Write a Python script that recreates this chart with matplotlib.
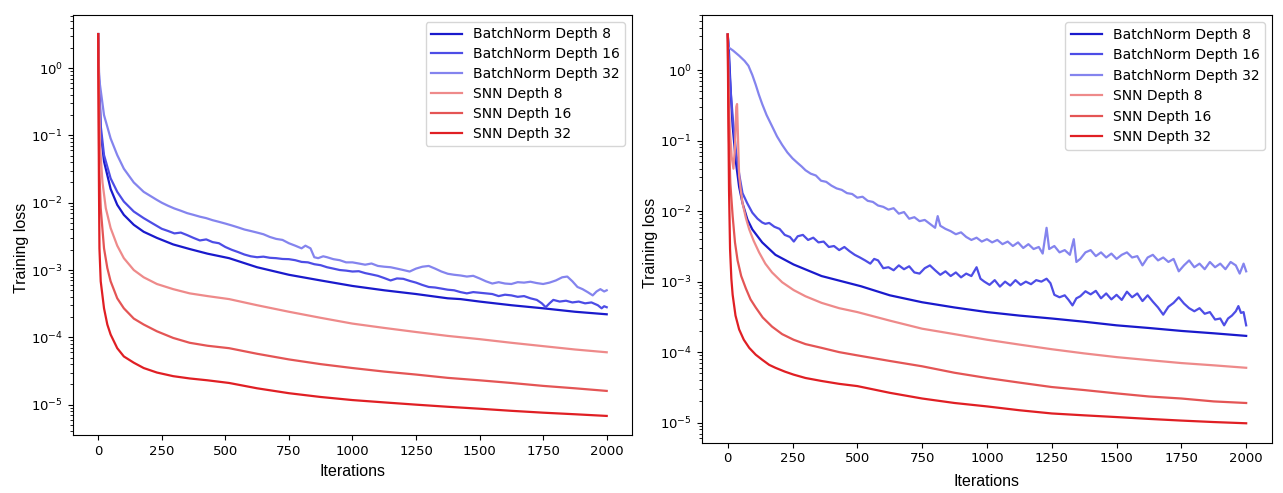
import matplotlib.pyplot as plt

# ---- left panel data (iterations, training loss) ----
l_bn8_x = [0, 3, 10, 23, 49, 75, 101, 140, 179, 231, 295, 360, 430, 515, 625, 750, 875, 1000, 1125, 1250,
           1375, 1425, 1500, 1625, 1750, 1875, 2000]
l_bn8_y = [3.2, 0.8, 0.11, 0.041, 0.016, 9.3e-3, 6.6e-3, 4.7e-3, 3.7e-3, 3.0e-3, 2.4e-3, 2.05e-3, 1.75e-3,
           1.5e-3, 1.1e-3, 8.5e-4, 7.0e-4, 5.8e-4, 5.0e-4, 4.4e-4, 3.8e-4, 3.7e-4, 3.4e-4, 3.0e-4, 2.7e-4,
           2.4e-4, 2.2e-4]

l_bn16_x = [0, 3, 10, 23, 49, 75, 101, 140, 179, 215, 250, 275, 300, 325, 350, 375, 400, 425, 450, 475, 500,
            525, 550, 575, 600, 625, 650, 675, 700, 725, 750, 775, 800, 825, 850, 875, 900, 925, 950, 975, 1000,
            1025, 1050, 1075, 1100, 1125, 1150, 1175, 1200, 1225, 1250, 1275, 1300, 1325, 1350, 1375, 1400, 1425,
            1450, 1475, 1500, 1525, 1550, 1575, 1600, 1625, 1650, 1675, 1700, 1725, 1745, 1760, 1775, 1790, 1815,
            1840, 1865, 1890, 1915, 1940, 1965, 1980, 1990, 2000]
l_bn16_y = [3.2, 0.8, 0.14, 0.051, 0.023, 0.0145, 0.0104, 7.4e-3, 5.9e-3, 4.9e-3, 4.1e-3, 3.8e-3, 3.5e-3,
            3.6e-3, 3.3e-3, 3.0e-3, 2.75e-3, 2.85e-3, 2.6e-3, 2.5e-3, 2.2e-3, 2.0e-3, 1.85e-3, 1.7e-3, 1.6e-3,
            1.55e-3, 1.58e-3, 1.52e-3, 1.5e-3, 1.46e-3, 1.45e-3, 1.4e-3, 1.32e-3, 1.3e-3, 1.22e-3, 1.18e-3,
            1.1e-3, 1.05e-3, 1.0e-3, 9.8e-4, 9.5e-4, 9.6e-4, 9.0e-4, 8.6e-4, 8.2e-4, 7.6e-4, 7.0e-4, 7.5e-4,
            7.4e-4, 6.9e-4, 6.5e-4, 6.0e-4, 5.6e-4, 5.5e-4, 5.3e-4, 5.1e-4, 5.0e-4, 4.7e-4, 4.5e-4, 4.7e-4,
            4.6e-4, 4.5e-4, 4.4e-4, 4.1e-4, 4.3e-4, 4.2e-4, 4.0e-4, 4.1e-4, 3.8e-4, 3.6e-4, 3.2e-4, 2.8e-4,
            3.2e-4, 3.6e-4, 3.4e-4, 3.5e-4, 3.3e-4, 3.4e-4, 3.2e-4, 3.3e-4, 3.0e-4, 2.7e-4, 2.9e-4, 2.8e-4]

l_bn32_x = [0, 4, 23, 49, 75, 101, 140, 179, 231, 250, 275, 300, 325, 350, 375, 400, 425, 450, 475, 500, 525,
            550, 575, 600, 625, 650, 675, 700, 725, 750, 775, 800, 815, 835, 850, 865, 885, 900, 925, 950, 975,
            1000, 1025, 1050, 1075, 1100, 1125, 1150, 1175, 1200, 1225, 1250, 1275, 1300, 1325, 1350, 1375, 1400,
            1425, 1450, 1475, 1500, 1525, 1550, 1575, 1600, 1625, 1650, 1675, 1700, 1725, 1750, 1775, 1800, 1825,
            1845, 1865, 1885, 1905, 1925, 1945, 1960, 1975, 1990, 2000]
l_bn32_y = [3.2, 0.69, 0.2, 0.09, 0.051, 0.032, 0.020, 0.0145, 0.011, 0.0100, 9.0e-3, 8.2e-3, 7.6e-3, 7.0e-3,
            6.6e-3, 6.2e-3, 5.9e-3, 5.5e-3, 5.2e-3, 4.9e-3, 4.6e-3, 4.3e-3, 4.0e-3, 3.8e-3, 3.6e-3, 3.4e-3,
            3.1e-3, 2.9e-3, 2.8e-3, 2.5e-3, 2.3e-3, 2.1e-3, 2.3e-3, 2.1e-3, 1.55e-3, 1.5e-3, 1.6e-3, 1.55e-3,
            1.45e-3, 1.4e-3, 1.3e-3, 1.3e-3, 1.25e-3, 1.2e-3, 1.25e-3, 1.15e-3, 1.12e-3, 1.1e-3, 1.05e-3, 1.0e-3,
            9.5e-4, 1.05e-3, 1.12e-3, 1.15e-3, 1.05e-3, 9.5e-4, 8.8e-4, 8.5e-4, 8.3e-4, 8.0e-4, 8.2e-4, 7.5e-4,
            6.8e-4, 6.3e-4, 6.6e-4, 6.3e-4, 6.2e-4, 6.6e-4, 6.5e-4, 6.7e-4, 6.4e-4, 6.2e-4, 6.5e-4, 7.0e-4,
            7.8e-4, 8.0e-4, 6.8e-4, 5.6e-4, 5.2e-4, 4.7e-4, 4.2e-4, 4.8e-4, 5.2e-4, 4.8e-4, 5.0e-4]

l_snn8_x = [0, 3, 8, 17, 30, 49, 75, 101, 140, 179, 231, 295, 360, 430, 515, 625, 750, 875, 1000, 1125, 1250,
            1375, 1500, 1625, 1750, 1875, 2000]
l_snn8_y = [3.2, 0.5, 0.063, 0.02, 8.3e-3, 4.2e-3, 2.3e-3, 1.5e-3, 1.0e-3, 7.8e-4, 6.2e-4, 5.2e-4, 4.5e-4,
            4.1e-4, 3.7e-4, 3.0e-4, 2.4e-4, 1.95e-4, 1.6e-4, 1.38e-4, 1.2e-4, 1.05e-4, 9.4e-5, 8.3e-5, 7.4e-5,
            6.6e-5, 6.0e-5]

l_snn16_x = [0, 2, 4, 10, 23, 36, 49, 75, 101, 140, 179, 231, 295, 360, 430, 515, 625, 750, 875, 1000, 1125,
             1250, 1375, 1500, 1625, 1750, 1875, 2000]
l_snn16_y = [3.2, 0.4, 0.036, 8.3e-3, 2.1e-3, 1.07e-3, 6.8e-4, 3.8e-4, 2.7e-4, 1.9e-4, 1.55e-4, 1.23e-4,
             9.8e-5, 8.3e-5, 7.5e-5, 6.9e-5, 5.7e-5, 4.7e-5, 4.0e-5, 3.5e-5, 3.1e-5, 2.8e-5, 2.5e-5, 2.3e-5,
             2.1e-5, 1.9e-5, 1.75e-5, 1.6e-5]

l_snn32_x = [0, 1, 3, 5, 10, 23, 36, 49, 75, 101, 140, 179, 231, 295, 360, 430, 515, 625, 750, 875, 1000, 1125,
             1250, 1375, 1500, 1625, 1750, 1875, 2000]
l_snn32_y = [3.2, 0.5, 0.02, 2.1e-3, 6.8e-4, 2.7e-4, 1.55e-4, 1.1e-4, 6.9e-5, 5.2e-5, 4.2e-5, 3.5e-5, 3.0e-5,
             2.65e-5, 2.45e-5, 2.3e-5, 2.1e-5, 1.75e-5, 1.48e-5, 1.3e-5, 1.17e-5, 1.08e-5, 1.0e-5, 9.3e-6,
             8.7e-6, 8.1e-6, 7.6e-6, 7.2e-6, 6.8e-6]

# ---- right panel data ----
r_bn8_x = [0, 4, 13, 19, 32, 44, 57, 76, 95, 133, 184, 254, 362, 514, 625, 750, 875, 1000, 1125, 1250, 1375,
           1500, 1625, 1750, 1875, 2000]
r_bn8_y = [3.2, 2.1, 0.38, 0.16, 0.048, 0.022, 0.013, 7.6e-3, 5.5e-3, 3.6e-3, 2.4e-3, 1.75e-3, 1.2e-3, 8.6e-4,
           6.4e-4, 5.1e-4, 4.3e-4, 3.7e-4, 3.3e-4, 3.0e-4, 2.7e-4, 2.4e-4, 2.2e-4, 2.0e-4, 1.85e-4, 1.7e-4]

r_bn16_x = [0, 4, 10, 19, 32, 45, 57, 75, 95, 115, 133, 145, 160, 180, 200, 220, 240, 255, 270, 290, 310, 330,
            350, 370, 390, 410, 430, 450, 470, 490, 510, 530, 550, 565, 580, 600, 620, 640, 660, 680, 700, 720,
            740, 760, 780, 800, 820, 840, 860, 880, 900, 920, 940, 960, 975, 990, 1010, 1030, 1050, 1070, 1090,
            1110, 1130, 1150, 1170, 1190, 1210, 1230, 1245, 1260, 1280, 1300, 1315, 1330, 1345, 1360, 1380, 1400,
            1420, 1440, 1460, 1480, 1500, 1520, 1540, 1560, 1580, 1600, 1620, 1640, 1660, 1680, 1700, 1720, 1740,
            1760, 1780, 1800, 1820, 1840, 1860, 1880, 1900, 1915, 1930, 1945, 1960, 1970, 1980, 1990, 2000]
r_bn16_y = [3.2, 1.5, 0.6, 0.22, 0.07, 0.032, 0.018, 0.013, 9.5e-3, 7.8e-3, 6.9e-3, 6.6e-3, 6.8e-3, 6.0e-3,
            5.6e-3, 4.6e-3, 4.3e-3, 3.7e-3, 4.4e-3, 4.6e-3, 3.9e-3, 4.2e-3, 3.6e-3, 3.7e-3, 3.1e-3, 3.2e-3,
            2.8e-3, 3.1e-3, 2.7e-3, 2.4e-3, 2.2e-3, 2.0e-3, 1.8e-3, 2.1e-3, 2.0e-3, 1.55e-3, 1.6e-3, 1.45e-3,
            1.7e-3, 1.5e-3, 1.65e-3, 1.35e-3, 1.3e-3, 1.55e-3, 1.7e-3, 1.45e-3, 1.25e-3, 1.4e-3, 1.2e-3, 1.35e-3,
            1.15e-3, 1.3e-3, 1.2e-3, 1.6e-3, 1.1e-3, 1.0e-3, 9.0e-4, 1.05e-3, 8.5e-4, 1.0e-3, 8.8e-4, 1.05e-3,
            9.0e-4, 1.0e-3, 9.2e-4, 1.05e-3, 1.0e-3, 1.1e-3, 9.5e-4, 6.5e-4, 6.0e-4, 6.4e-4, 5.5e-4, 4.6e-4,
            5.8e-4, 6.2e-4, 7.3e-4, 6.6e-4, 7.4e-4, 5.8e-4, 6.8e-4, 5.6e-4, 6.5e-4, 5.5e-4, 7.2e-4, 6.0e-4,
            6.8e-4, 5.3e-4, 6.4e-4, 5.2e-4, 4.3e-4, 3.4e-4, 4.4e-4, 5.0e-4, 6.0e-4, 4.9e-4, 4.2e-4, 3.8e-4,
            4.2e-4, 3.5e-4, 3.7e-4, 2.9e-4, 3.0e-4, 2.4e-4, 3.0e-4, 3.3e-4, 3.8e-4, 4.5e-4, 3.6e-4, 3.7e-4, 2.4e-4]

r_bn32_x = [0, 3, 20, 44, 65, 80, 95, 108, 120, 133, 150, 171, 190, 210, 230, 250, 270, 285, 300, 320, 340, 360,
            380, 400, 420, 440, 460, 480, 500, 520, 540, 560, 580, 600, 620, 640, 660, 680, 700, 720, 740, 760,
            780, 800, 810, 820, 840, 860, 880, 900, 920, 940, 960, 980, 1000, 1020, 1040, 1060, 1080, 1100, 1120,
            1140, 1160, 1180, 1200, 1215, 1230, 1240, 1260, 1280, 1300, 1320, 1335, 1345, 1360, 1380, 1400, 1420,
            1440, 1460, 1480, 1500, 1520, 1540, 1560, 1580, 1600, 1620, 1640, 1660, 1680, 1700, 1720, 1740, 1760,
            1780, 1800, 1820, 1840, 1860, 1880, 1900, 1920, 1940, 1960, 1975, 1990, 2000]
r_bn32_y = [3.2, 2.1, 1.9, 1.6, 1.35, 1.15, 0.85, 0.62, 0.45, 0.33, 0.23, 0.16, 0.115, 0.087, 0.068, 0.056,
            0.048, 0.043, 0.038, 0.034, 0.032, 0.027, 0.026, 0.023, 0.021, 0.020, 0.018, 0.0175, 0.0155, 0.016,
            0.014, 0.0135, 0.012, 0.0115, 0.0105, 0.011, 0.0092, 0.0097, 0.0078, 0.0082, 0.0072, 0.0075, 0.0066,
            0.0058, 0.0085, 0.0062, 0.0056, 0.0052, 0.0047, 0.005, 0.0043, 0.0039, 0.0042, 0.0037, 0.004, 0.0036,
            0.0039, 0.0034, 0.0037, 0.0032, 0.0036, 0.003, 0.0034, 0.0029, 0.0031, 0.0025, 0.0058, 0.0029, 0.0032,
            0.0026, 0.0028, 0.0024, 0.0040, 0.0019, 0.0021, 0.0026, 0.0028, 0.0023, 0.0026, 0.0022, 0.0025,
            0.0021, 0.0024, 0.0026, 0.0022, 0.0023, 0.0017, 0.0022, 0.0024, 0.002, 0.0022, 0.0019, 0.0021,
            0.0014, 0.0017, 0.002, 0.0016, 0.0018, 0.0015, 0.0019, 0.0016, 0.0018, 0.0015, 0.0019, 0.0017,
            0.0013, 0.0018, 0.0014]

r_snn8_x = [0, 3, 8, 15, 22, 28, 33, 36, 40, 44, 50, 57, 70, 83, 100, 121, 145, 171, 210, 254, 300, 362, 430,
            500, 625, 750, 875, 1000, 1125, 1250, 1375, 1500, 1625, 1750, 1875, 2000]
r_snn8_y = [3.2, 0.6, 0.15, 0.06, 0.04, 0.08, 0.3, 0.33, 0.1, 0.032, 0.02, 0.013, 8e-3, 5.5e-3, 3.8e-3,
            2.6e-3, 1.8e-3, 1.35e-3, 9.8e-4, 7.6e-4, 6.2e-4, 5.0e-4, 4.2e-4, 3.7e-4, 2.8e-4, 2.15e-4, 1.8e-4,
            1.5e-4, 1.28e-4, 1.1e-4, 9.6e-5, 8.5e-5, 7.7e-5, 7.0e-5, 6.5e-5, 6.0e-5]

r_snn16_x = [0, 2, 5, 10, 19, 28, 38, 52, 70, 88, 108, 135, 171, 210, 254, 300, 362, 430, 500, 625, 750, 875,
             1000, 1125, 1250, 1375, 1500, 1625, 1750, 1875, 2000]
r_snn16_y = [3.2, 0.6, 0.1, 0.025, 8.5e-3, 3.6e-3, 2.0e-3, 1.2e-3, 8e-4, 5.6e-4, 4.3e-4, 3.1e-4, 2.3e-4,
             1.8e-4, 1.5e-4, 1.3e-4, 1.15e-4, 1.0e-4, 9e-5, 7.5e-5, 6.3e-5, 5.1e-5, 4.3e-5, 3.7e-5, 3.2e-5,
             2.9e-5, 2.6e-5, 2.35e-5, 2.2e-5, 2.0e-5, 1.9e-5]

r_snn32_x = [0, 2, 5, 9, 14, 19, 30, 44, 62, 83, 108, 133, 160, 184, 220, 254, 300, 362, 430, 500, 625, 750,
             875, 1000, 1125, 1250, 1375, 1500, 1625, 1750, 1875, 2000]
r_snn32_y = [3.2, 0.3, 0.02, 2.9e-3, 1.1e-3, 6.5e-4, 3.3e-4, 2.1e-4, 1.5e-4, 1.15e-4, 9.2e-5, 7.8e-5, 6.6e-5,
             6e-5, 5.3e-5, 4.8e-5, 4.3e-5, 3.9e-5, 3.55e-5, 3.3e-5, 2.65e-5, 2.2e-5, 1.9e-5, 1.7e-5, 1.5e-5,
             1.35e-5, 1.27e-5, 1.2e-5, 1.13e-5, 1.07e-5, 1.02e-5, 9.8e-6]

labels = ["BatchNorm Depth 8", "BatchNorm Depth 16", "BatchNorm Depth 32",
          "SNN Depth 8", "SNN Depth 16", "SNN Depth 32"]
colors = ["#1a1acc", "#4d4de6", "#8484ee", "#ee8a8a", "#e45555", "#e01f24"]
decades = [1e0, 1e-1, 1e-2, 1e-3, 1e-4, 1e-5]

left_series = [(l_bn8_x, l_bn8_y), (l_bn16_x, l_bn16_y), (l_bn32_x, l_bn32_y),
               (l_snn8_x, l_snn8_y), (l_snn16_x, l_snn16_y), (l_snn32_x, l_snn32_y)]
right_series = [(r_bn8_x, r_bn8_y), (r_bn16_x, r_bn16_y), (r_bn32_x, r_bn32_y),
                (r_snn8_x, r_snn8_y), (r_snn16_x, r_snn16_y), (r_snn32_x, r_snn32_y)]

fig = plt.figure(figsize=(12.83, 4.93), dpi=100)
ax_l = fig.add_axes([0.0567, 0.1176, 0.436, 0.852])
ax_r = fig.add_axes([0.547, 0.102, 0.4445, 0.8675])

label_font = dict(family="Liberation Sans", size=11.5)

panels = [(ax_l, left_series, (-0.078, 0.445), (0.5, -0.069), 0.42),
          (ax_r, right_series, (-0.077, 0.467), (0.5, -0.073), 0.47)]
for ax, series, ylab_pos, xlab_pos, spacing in panels:
    for (xs, ys), lab, c in zip(series, labels, colors):
        ax.plot(xs, ys, color=c, lw=1.6, label=lab)
    ax.set_yscale("log")
    ax.autoscale_view()
    lo, hi = ax.get_ylim()
    ax.set_yticks(decades)
    ax.set_ylim(lo, hi)
    ax.set_xticks(range(0, 2001, 250))
    ax.tick_params(labelsize=9.5)
    ax.set_xlabel("Iterations", fontdict=label_font)
    ax.set_ylabel("Training loss", fontdict=label_font)
    ax.yaxis.set_label_coords(*ylab_pos)
    ax.xaxis.set_label_coords(*xlab_pos)
    ax.legend(loc="upper right", fontsize=10, labelspacing=spacing, handlelength=2.2)

fig.savefig("out.png", dpi=100)
